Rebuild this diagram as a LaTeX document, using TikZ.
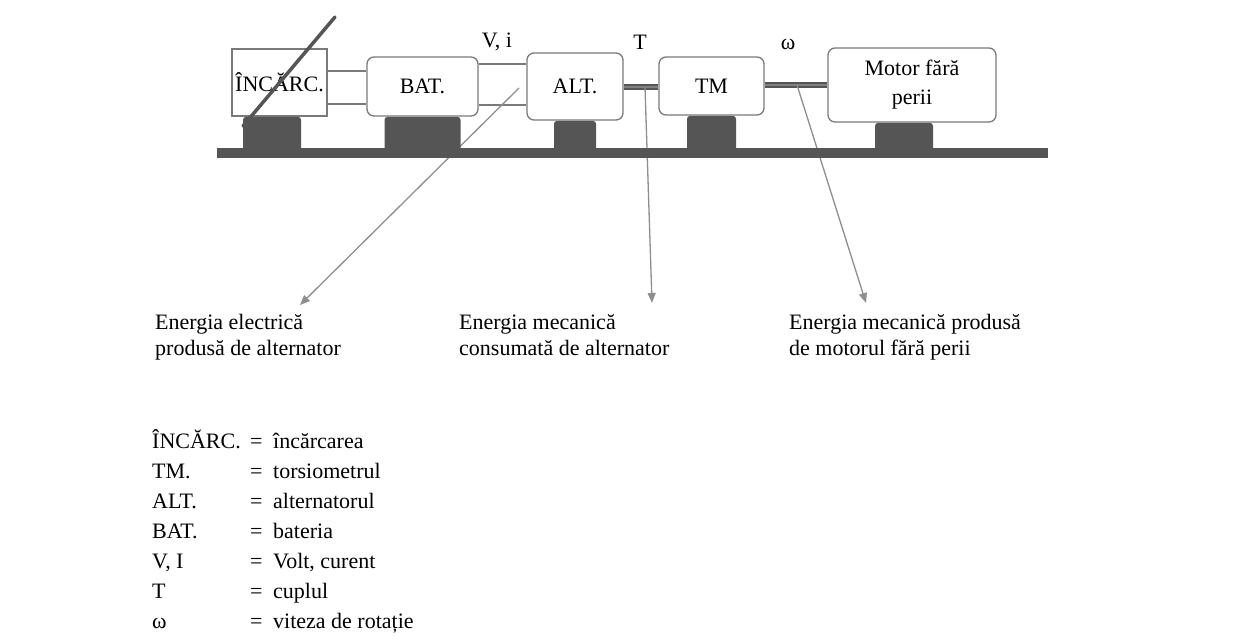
\documentclass[tikz,border=0pt]{standalone}
\usepackage{fontspec}
\setmainfont{Liberation Serif}
\usetikzlibrary{positioning,arrows.meta}
\definecolor{steel}{HTML}{555555}
\definecolor{edge}{HTML}{7A7A7A}

\begin{document}
\begin{tikzpicture}[
  x=1pt, y=-1pt,
  box/.style={draw=edge, line width=1.3pt, rounded corners=7pt, fill=white, align=center, font=\fontsize{22}{29}\selectfont, inner sep=0pt},
  foot/.style={fill=steel, rounded corners=3pt, inner sep=0pt},
  wire/.style={draw=edge, line width=1.1pt},
  shaft/.style={draw=steel, line width=2pt, double=gray, double distance=1.4pt},
  pointer/.style={->, draw=edge!85, line width=1.3pt},
  lbl/.style={font=\fontsize{22}{26}\selectfont, align=left, inner sep=0pt},
  >={Triangle[length=10pt, width=8pt]}
]
\useasboundingbox (0,0) rectangle (1253,642);
% machines on the bench
\node[box, sharp corners, minimum width=95pt, minimum height=67pt] (inc) at (279.5,82.5) {ÎNCĂRC.};
\node[box, minimum width=111pt, minimum height=59pt] (bat) at (422.5,86.5) {BAT.};
\node[box, minimum width=96pt, minimum height=67pt] (alt) at (575,86.5) {ALT.};
\node[box, minimum width=105pt, minimum height=58pt] (tm) at (711.5,86) {TM};
\node[box, minimum width=168pt, minimum height=74pt] (motor) at (912,85) {Motor fără\\perii};
% wires and shafts
\draw[wire] (inc.east |- 0,71) -- (bat.west |- 0,71);
\draw[wire] (inc.east |- 0,104) -- (bat.west |- 0,104);
\draw[wire] (bat.east |- 0,64) -- (alt.west |- 0,64);
\draw[wire] (bat.east |- 0,105) -- (alt.west |- 0,105);
\draw[shaft] (alt.east |- 0,87) -- (tm.west |- 0,87);
\draw[shaft] (tm.east |- 0,85) -- (motor.west |- 0,85);
\node[lbl] (vi) at (497,42) {V, i};
\node[lbl] (torque) at (640,42) {T};
\node[lbl] (omega) at (788,44) {ω};
% energy flows
\coordinate (pe) at (519,88);
\coordinate (pt) at (645,87);
\coordinate (pw) at (797,85);
\coordinate (qe) at (300,305);
\coordinate (qt) at (652,303);
\coordinate (qw) at (866,303);
\draw[pointer] (pe) -- (qe);
\draw[pointer] (pt) -- (qt);
\draw[pointer] (pw) -- (qw);
% feet and bench
\node[foot, minimum width=58pt, minimum height=36pt, below=0pt of inc, xshift=-7.5pt] (incfoot) {};
\node[foot, minimum width=76pt, minimum height=36pt, below=0pt of bat] (batfoot) {};
\node[foot, minimum width=42pt, minimum height=32pt, below=0pt of alt] (altfoot) {};
\node[foot, minimum width=49pt, minimum height=37pt, below=0pt of tm] (tmfoot) {};
\node[foot, minimum width=58pt, minimum height=30pt, below=0pt of motor, xshift=-8pt] (motorfoot) {};
\node[fill=steel, inner sep=0pt, minimum width=831pt, minimum height=10pt, anchor=north west] (bench) at (217,148) {};
\draw[steel, line width=3.5pt, line cap=round] (243,126) -- (335,17);
% captions
\node[lbl, anchor=north west] (elec) at (155,314) {Energia electrică\\produsă de alternator};
\node[lbl, anchor=north west] (mechin) at (459,314) {Energia mecanică\\consumată de alternator};
\node[lbl, anchor=north west] (mechout) at (789,314) {Energia mecanică produsă\\de motorul fără perii};
\node[inner sep=0pt, anchor=north west, font=\fontsize{22}{30}\selectfont] (legend) at (152,427) {%
  \begin{tabular}{@{}p{98pt}@{}p{23pt}@{}l@{}}
  ÎNCĂRC. & = & încărcarea\\
  TM. & = & torsiometrul\\
  ALT. & = & alternatorul\\
  BAT. & = & bateria\\
  V, I & = & Volt, curent\\
  T & = & cuplul\\
  ω & = & viteza de rotație
  \end{tabular}};
\end{tikzpicture}
\end{document}
